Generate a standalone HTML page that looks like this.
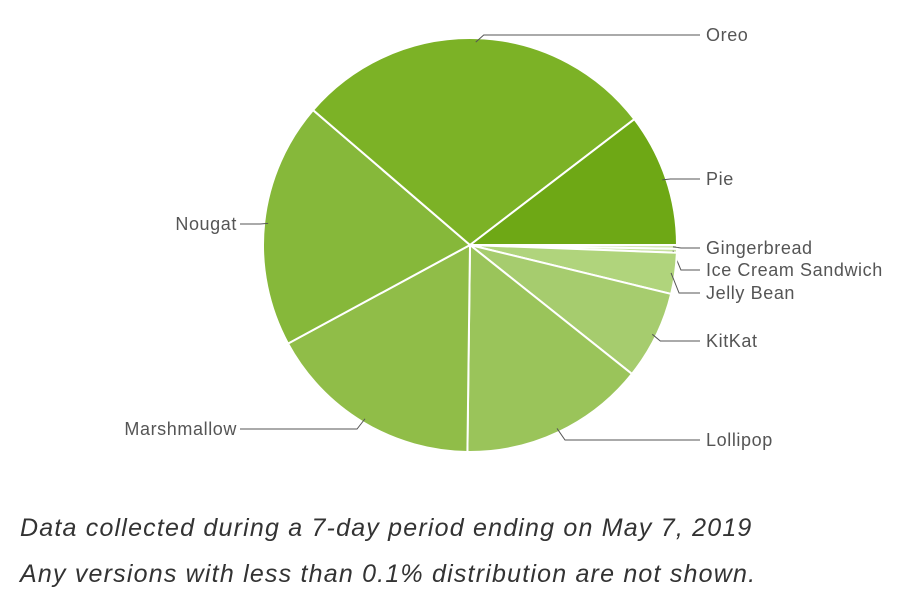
<!DOCTYPE html>
<html><head><meta charset="utf-8"><style>
body{margin:0;background:#fff;width:900px;height:610px;overflow:hidden;font-family:"Liberation Sans",sans-serif}
.cap{position:absolute;left:20px;font-style:italic;font-size:25px;letter-spacing:1.2px;color:#333}
</style></head><body>
<svg id="chart" width="900" height="500" style="position:absolute;left:0;top:0"></svg>
<div class="cap" style="top:514px">Data collected during a 7-day period ending on May 7, 2019</div>
<div class="cap" style="top:560px">Any versions with less than 0.1% distribution are not shown.</div>
<script>
const categories=["Gingerbread","Ice Cream Sandwich","Jelly Bean","KitKat","Lollipop","Marshmallow","Nougat","Oreo","Pie"];
const values=[0.3,0.3,3.2,6.9,14.5,16.9,19.2,28.3,10.4];
const colors=["#d4e7b5","#c6e09d","#b0d47c","#a6cc6e","#9ac45a","#90bd48","#86b83a","#7cb226","#6ea815"];
const labelY=[248,270,293,341,440,429,224,35,179];
const ns="http://www.w3.org/2000/svg",svg=document.getElementById('chart');
const cx=470,cy=245,r=207;
const total=values.reduce((a,b)=>a+b,0);
function pt(a,rr){return [cx+rr*Math.cos(a),cy+rr*Math.sin(a)];}
let a0=0;
values.forEach((v,i)=>{
  const a1=a0+v/total*2*Math.PI;
  const p0=pt(a0,r),p1=pt(a1,r),large=(a1-a0)>Math.PI?1:0;
  const path=document.createElementNS(ns,'path');
  path.setAttribute('d',`M${cx},${cy}L${p0[0]},${p0[1]}A${r},${r} 0 ${large} 1 ${p1[0]},${p1[1]}Z`);
  path.setAttribute('fill',colors[i]);path.setAttribute('stroke','#fff');path.setAttribute('stroke-width','2');
  
  
  svg.appendChild(path);
  const am=(a0+a1)/2,pm=pt(am,r-4),right=Math.cos(am)>=0;
  const ly=labelY[i];
  const lx=right?700:240;
  const elbow=right?pm[0]+8:pm[0]-8;
  const ln=document.createElementNS(ns,'polyline');
  ln.setAttribute('points',`${pm[0]},${pm[1]} ${elbow},${ly} ${lx},${ly}`);
  ln.setAttribute('fill','none');ln.setAttribute('stroke','#555');ln.setAttribute('stroke-width','1');
  
  
  svg.appendChild(ln);
  const t=document.createElementNS(ns,'text');
  t.setAttribute('x',right?lx+6:lx-3);t.setAttribute('y',ly+6);
  t.setAttribute('text-anchor',right?'start':'end');
  t.setAttribute('font-size','18');t.setAttribute('fill','#555');
  t.setAttribute('letter-spacing','0.6');
  t.setAttribute('font-family','Liberation Sans, sans-serif');
  t.textContent=categories[i];
  
  
  svg.appendChild(t);
  a0=a1;
});
</script>
</body></html>
